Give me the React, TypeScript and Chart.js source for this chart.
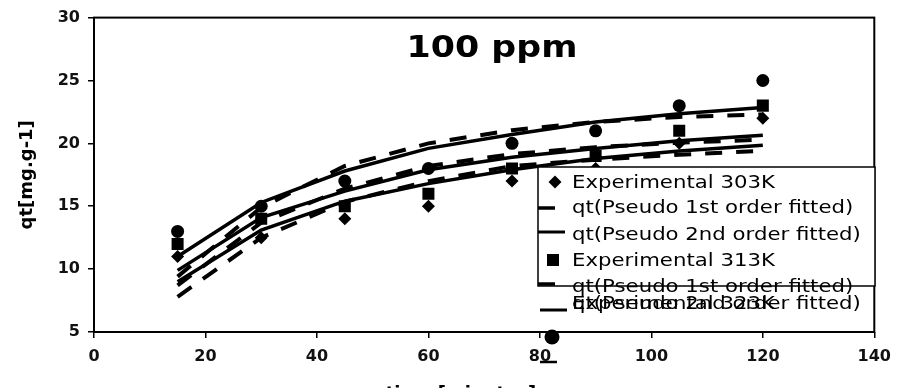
import React, { useEffect, useRef } from "react";
import { Chart, registerables } from "chart.js";

Chart.register(...registerables);

// ---- data ----
const timeMin = [15, 30, 45, 60, 75, 90, 105, 120];

const exp303 = [11, 12.5, 14, 15, 17, 18, 20, 22];
const pfo303 = [7.8, 12.5, 15.35, 17.0, 18.2, 18.7, 19.1, 19.4];
const pso303 = [9.0, 13.1, 15.4, 16.8, 17.9, 18.8, 19.4, 19.85];

const exp313 = [12, 14, 15, 16, 18, 19, 21, 23];
const pfo313 = [8.7, 13.7, 16.4, 18.2, 19.15, 19.7, 20.05, 20.3];
const pso313 = [9.9, 14.1, 16.2, 17.9, 18.9, 19.6, 20.2, 20.65];

const exp323 = [13, 15, 17, 18, 20, 21, 23, 25];
const pfo323 = [9.4, 14.9, 18.2, 20.0, 21.05, 21.7, 22.1, 22.3];
const pso323 = [11.0, 15.3, 17.8, 19.6, 20.7, 21.7, 22.35, 22.85];

const xMin = 0;
const xMax = 140;
const xStep = 20;
const yMin = 5;
const yMax = 30;
const yStep = 5;

const chartTitle = "100 ppm";
const xAxisTitle = "time [minutes]";
const yAxisTitle = "qt[mg.g-1]";

const labelExp303 = "Experimental 303K";
const labelExp313 = "Experimental 313K";
const labelExp323 = "Experimental 323K";
const labelPfo = "qt(Pseudo 1st order fitted)";
const labelPso = "qt(Pseudo 2nd order fitted)";

const pts = (ys: number[]) => timeMin.map((t, i) => ({ x: t, y: ys[i] }));

const FONT = "'DejaVu Sans', sans-serif";

function stretchText(
  ctx: CanvasRenderingContext2D,
  text: string,
  x: number,
  y: number,
  sx: number,
  align: CanvasTextAlign
) {
  ctx.save();
  ctx.translate(x, y);
  ctx.scale(sx, 1);
  ctx.textAlign = align;
  ctx.textBaseline = "alphabetic";
  ctx.fillText(text, 0, 0);
  ctx.restore();
}

function drawMarker(ctx: CanvasRenderingContext2D, style: string, x: number, y: number, r: number) {
  ctx.save();
  ctx.fillStyle = "#000";
  ctx.beginPath();
  if (style === "circle") {
    ctx.arc(x, y, r, 0, Math.PI * 2);
  } else if (style === "rect") {
    ctx.rect(x - r, y - r, 2 * r, 2 * r);
  } else {
    ctx.moveTo(x, y - r);
    ctx.lineTo(x + r, y);
    ctx.lineTo(x, y + r);
    ctx.lineTo(x - r, y);
    ctx.closePath();
  }
  ctx.fill();
  ctx.restore();
}

function drawSeg(ctx: CanvasRenderingContext2D, x0: number, x1: number, y: number, w: number) {
  ctx.save();
  ctx.strokeStyle = "#000";
  ctx.lineWidth = w;
  ctx.setLineDash([]);
  ctx.beginPath();
  ctx.moveTo(x0, y);
  ctx.lineTo(x1, y);
  ctx.stroke();
  ctx.restore();
}

const decorPlugin = {
  id: "decor",
  afterDatasetsDraw(chart: any) {
    const ctx: CanvasRenderingContext2D = chart.ctx;
    const a = chart.chartArea;
    // frame
    ctx.save();
    ctx.strokeStyle = "#000";
    ctx.lineWidth = 2;
    ctx.strokeRect(a.left, a.top, a.right - a.left, a.bottom - a.top);
    ctx.restore();

    // title inside plot
    ctx.save();
    ctx.fillStyle = "#000";
    ctx.font = `bold 30px ${FONT}`;
    stretchText(ctx, chartTitle, 492, 57, 1.16, "center");
    ctx.restore();

    // legend box
    ctx.save();
    ctx.fillStyle = "#fff";
    ctx.fillRect(538, 167, 337, 119);
    ctx.strokeStyle = "#000";
    ctx.lineWidth = 1.5;
    ctx.strokeRect(538, 167, 337, 119);
    ctx.restore();

    ctx.save();
    ctx.fillStyle = "#000";
    ctx.font = `18px ${FONT}`;
    const tx = 572;
    const sx = 1.18;
    stretchText(ctx, chart.data.datasets[0].label, tx, 188, sx, "left");
    stretchText(ctx, chart.data.datasets[1].label, tx, 213, sx, "left");
    stretchText(ctx, chart.data.datasets[2].label, tx, 240, sx, "left");
    stretchText(ctx, chart.data.datasets[3].label, tx, 266, sx, "left");
    stretchText(ctx, chart.data.datasets[4].label, tx, 292, sx, "left");
    stretchText(ctx, chart.data.datasets[5].label, tx, 309, sx, "left");
    stretchText(ctx, chart.data.datasets[6].label, tx, 309, sx, "left");
    ctx.restore();

    drawMarker(ctx, "rectRot", 555, 182, 6.5);
    drawSeg(ctx, 538, 555, 208, 3.5);
    drawSeg(ctx, 538, 565, 232, 3);
    drawMarker(ctx, "rect", 553, 260, 6);
    drawSeg(ctx, 538, 555, 284, 3.5);
    drawSeg(ctx, 540, 567, 310, 3);
  },
  afterDraw(chart: any) {
    const ctx: CanvasRenderingContext2D = chart.ctx;
    // overflowing legend markers
    drawMarker(ctx, "circle", 552, 337, 7.5);
    drawSeg(ctx, 540, 557, 362, 2.5);
    // x axis title (partly cut at the bottom)
    ctx.save();
    ctx.fillStyle = "#000";
    ctx.font = `bold 18px ${FONT}`;
    stretchText(ctx, xAxisTitle, 461, 399, 1.0, "center");
    ctx.restore();
  },
};

export default function App() {
  const ref = useRef<HTMLCanvasElement | null>(null);

  useEffect(() => {
    document.body.style.margin = "0";
    document.body.style.overflow = "hidden";
    const canvas = ref.current!;
    const lineBase = {
      type: "line" as const,
      borderColor: "#000",
      backgroundColor: "#000",
      pointRadius: 0,
      tension: 0,
      fill: false,
    };
    const dashed = { ...lineBase, borderWidth: 4, borderDash: [17, 14] };
    const solid = { ...lineBase, borderWidth: 3.5 };
    const scat = (label: string, data: number[], style: string, r: number) => ({
      type: "scatter" as const,
      label,
      data: pts(data),
      pointStyle: style,
      pointRadius: r,
      pointBackgroundColor: "#000",
      pointBorderColor: "#000",
      pointBorderWidth: 0,
      showLine: false,
    });

    const chart = new Chart(canvas, {
      type: "scatter",
      data: {
        datasets: [
          scat(labelExp303, exp303, "rectRot", 6.5),
          { ...dashed, label: labelPfo, data: pts(pfo303) },
          { ...solid, label: labelPso, data: pts(pso303) },
          scat(labelExp313, exp313, "rect", 8.5),
          { ...dashed, label: labelPfo, data: pts(pfo313) },
          { ...solid, label: labelPso, data: pts(pso313) },
          scat(labelExp323, exp323, "circle", 6.5),
          { ...dashed, label: labelPfo, data: pts(pfo323) },
          { ...solid, label: labelPso, data: pts(pso323) },
        ] as any,
      },
      options: {
        animation: false,
        responsive: false,
        devicePixelRatio: 1,
        layout: { padding: { top: 17, right: 22, left: 0, bottom: 0 } },
        plugins: {
          legend: { display: false },
          tooltip: { enabled: false },
          title: { display: false },
        },
        scales: {
          x: {
            type: "linear",
            min: xMin,
            max: xMax,
            afterFit: (s: any) => {
              s.height = 72;
            },
            border: { display: false },
            grid: {
              drawOnChartArea: false,
              drawTicks: true,
              tickLength: 6,
              color: "#000",
              lineWidth: 1.5,
            },
            ticks: {
              stepSize: xStep,
              color: "#111",
              padding: 9,
              font: { family: FONT, size: 16, weight: "bold" },
            },
          },
          y: {
            type: "linear",
            min: yMin,
            max: yMax,
            afterFit: (s: any) => {
              s.width = 94;
            },
            border: { display: false },
            grid: {
              drawOnChartArea: false,
              drawTicks: true,
              tickLength: 6,
              color: "#000",
              lineWidth: 1.5,
            },
            ticks: {
              stepSize: yStep,
              color: "#111",
              padding: 8,
              font: { family: FONT, size: 16, weight: "bold" },
            },
            title: {
              display: true,
              text: yAxisTitle,
              color: "#000",
              padding: { top: 17, bottom: 0 },
              font: { family: FONT, size: 18, weight: "bold" },
            },
          },
        },
      } as any,
      plugins: [decorPlugin],
    });
    return () => chart.destroy();
  }, []);

  return (
    <div style={{ width: 900, height: 404, overflow: "hidden" }}>
      <canvas ref={ref} width={900} height={404} style={{ display: "block", width: 900, height: 404 }} />
    </div>
  );
}
